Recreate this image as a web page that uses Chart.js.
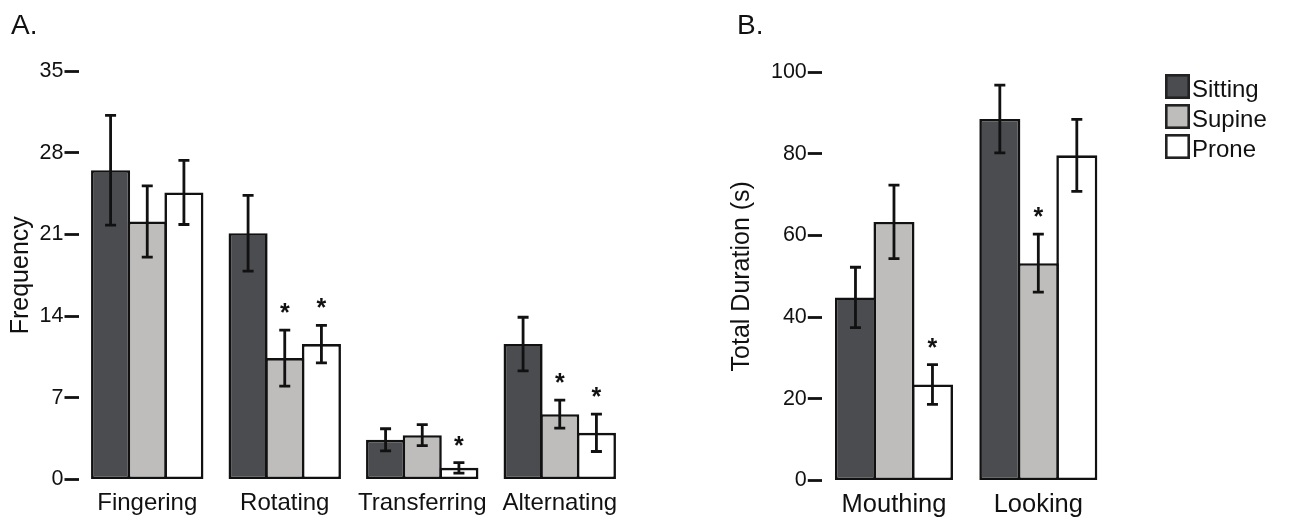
<!DOCTYPE html>
<html>
<head>
<meta charset="utf-8">
<script src="https://cdn.jsdelivr.net/npm/chart.js@4/dist/chart.umd.min.js"></script>
<style>
  html, body { margin: 0; padding: 0; background: #fff; }
  body { width: 1291px; height: 521px; position: relative; overflow: hidden; }
  canvas { position: absolute; top: 0; }
  #chartA { left: 0; }
  #chartB { left: 700px; }
</style>
</head>
<body>
<canvas id="chartA" width="660" height="521"></canvas>
<canvas id="chartB" width="591" height="521"></canvas>
<script>
// =========================
// DATA
// =========================

const seriesNames = ["Sitting", "Supine", "Prone"];

// panel A - frequency
const categoriesA = ["Fingering", "Rotating", "Transferring", "Alternating"];
const sittingA = [26.5, 21.1, 3.4, 11.6];
const supineA = [22.1, 10.4, 3.8, 5.6];
const proneA = [24.6, 11.6, 1.0, 4.0];
const sittingErrA = [4.7, 3.25, 0.95, 2.3];
const supineErrA = [3.05, 2.4, 0.9, 1.2];
const proneErrA = [2.75, 1.6, 0.45, 1.6];
const sittingSigA = [false, false, false, false];
const supineSigA = [false, true, false, true];
const proneSigA = [false, true, true, true];
const ticksA = [0, 7, 14, 21, 28, 35];

// panel B - total duration
const categoriesB = ["Mouthing", "Looking"];
const sittingB = [44.8, 88.5];
const supineB = [63.3, 53.2];
const proneB = [23.5, 79.6];
const sittingErrB = [7.4, 8.3];
const supineErrB = [9.0, 7.1];
const proneErrB = [4.85, 8.8];
const sittingSigB = [false, false];
const supineSigB = [false, true];
const proneSigB = [true, false];
const ticksB = [0, 20, 40, 60, 80, 100];

// =========================
// STYLE
// =========================

const FONT = "'Liberation Sans', Arial, Helvetica, sans-serif";
const COLORS = ["#4b4c50", "#bebdbb", "#ffffff"];
const INK = "#111";

// =========================
// PLUGINS
// =========================

// error bars + significance stars
const errorBarPlugin = {
  id: "errorBars",
  afterDatasetsDraw(chart) {
    const ctx = chart.ctx;
    const y = chart.scales.y;
    ctx.save();
    ctx.strokeStyle = INK;
    ctx.fillStyle = INK;
    ctx.lineWidth = 2.8;
    ctx.font = "bold 25px " + FONT;
    ctx.textAlign = "center";
    ctx.textBaseline = "alphabetic";
    chart.data.datasets.forEach((ds, i) => {
      const meta = chart.getDatasetMeta(i);
      meta.data.forEach((bar, j) => {
        const v = ds.data[j];
        const e = ds.errors[j];
        const top = y.getPixelForValue(v + e);
        const bot = y.getPixelForValue(v - e);
        const cap = 5.5;
        ctx.beginPath();
        ctx.moveTo(bar.x, top);
        ctx.lineTo(bar.x, bot);
        ctx.moveTo(bar.x - cap, top);
        ctx.lineTo(bar.x + cap, top);
        ctx.moveTo(bar.x - cap, bot);
        ctx.lineTo(bar.x + cap, bot);
        ctx.stroke();
        if (ds.sig[j]) {
          ctx.fillText("*", bar.x, top - 9);
        }
      });
    });
    ctx.restore();
  }
};

// panel letters and the legend
const decorPlugin = {
  id: "decor",
  afterDraw(chart, args, opts) {
    const ctx = chart.ctx;
    ctx.save();
    ctx.fillStyle = INK;
    ctx.textAlign = "left";
    ctx.textBaseline = "alphabetic";
    ctx.font = "28px " + FONT;
    ctx.fillText(opts.letter, opts.letterX, 34);

    if (opts.legend) {
      ctx.font = "24px " + FONT;
      chart.data.datasets.forEach((ds, i) => {
        const bx = opts.legendX;
        const by = 74 + i * 30;
        ctx.fillStyle = ds.backgroundColor;
        ctx.fillRect(bx, by, 25, 25);
        ctx.strokeStyle = "#222";
        ctx.lineWidth = 2.6;
        ctx.strokeRect(bx + 1.3, by + 1.3, 22.4, 22.4);
        ctx.fillStyle = INK;
        ctx.fillText(ds.label, bx + 27, by + 23);
      });
    }
    ctx.restore();
  }
};

// =========================
// BUILD
// =========================

function makeDatasets(values, errors, sigs) {
  return seriesNames.map((name, i) => ({
    label: name,
    data: values[i],
    errors: errors[i],
    sig: sigs[i],
    backgroundColor: COLORS[i],
    borderColor: INK,
    borderWidth: 2.6,
    borderSkipped: false,
    categoryPercentage: 0.80,
    barPercentage: 1.066
  }));
}

function makeChart(canvasId, cfg) {
  return new Chart(document.getElementById(canvasId), {
    type: "bar",
    data: {
      labels: cfg.labels,
      datasets: makeDatasets(cfg.values, cfg.errors, cfg.sigs)
    },
    plugins: [errorBarPlugin, decorPlugin],
    options: {
      responsive: false,
      animation: false,
      events: [],
      layout: { padding: cfg.padding },
      plugins: {
        legend: { display: false },
        tooltip: { enabled: false },
        decor: cfg.decor
      },
      scales: {
        x: {
          grid: { display: false, drawTicks: false },
          border: { display: false },
          ticks: {
            color: INK,
            padding: 9,
            font: { family: FONT, size: cfg.catFont }
          },
          afterFit: s => { s.height = cfg.xHeight; }
        },
        y: {
          min: cfg.ticks[0],
          max: cfg.ticks[cfg.ticks.length - 1],
          afterBuildTicks: s => { s.ticks = cfg.ticks.map(v => ({ value: v })); },
          grid: {
            drawOnChartArea: false,
            drawTicks: true,
            tickLength: 14,
            tickWidth: 2.8,
            tickColor: INK
          },
          border: { display: false },
          ticks: {
            color: INK,
            padding: 1,
            font: { family: FONT, size: 21.5 }
          },
          title: {
            display: true,
            text: cfg.yTitle,
            color: INK,
            padding: { top: cfg.titlePad, bottom: 0 },
            font: { family: FONT, size: 25 }
          },
          afterFit: s => { s.width = cfg.yWidth; }
        }
      }
    }
  });
}

makeChart("chartA", {
  labels: categoriesA,
  values: [sittingA, supineA, proneA],
  errors: [sittingErrA, supineErrA, proneErrA],
  sigs: [sittingSigA, supineSigA, proneSigA],
  ticks: ticksA,
  yTitle: "Frequency",
  titlePad: 6,
  catFont: 24,
  padding: { top: 71, right: 31.5, bottom: 0, left: 0 },
  yWidth: 78.5,
  xHeight: 41.5,
  decor: { letter: "A.", letterX: 11 }
});

makeChart("chartB", {
  labels: categoriesB,
  values: [sittingB, supineB, proneB],
  errors: [sittingErrB, supineErrB, proneErrB],
  sigs: [sittingSigB, supineSigB, proneSigB],
  ticks: ticksB,
  yTitle: "Total Duration (s)",
  titlePad: 27.5,
  catFont: 25.5,
  padding: { top: 72, right: 180.5, bottom: 0, left: 0 },
  yWidth: 121.8,
  xHeight: 40.5,
  decor: { letter: "B.", letterX: 37, legend: true, legendX: 465 }
});
</script>
</body>
</html>
